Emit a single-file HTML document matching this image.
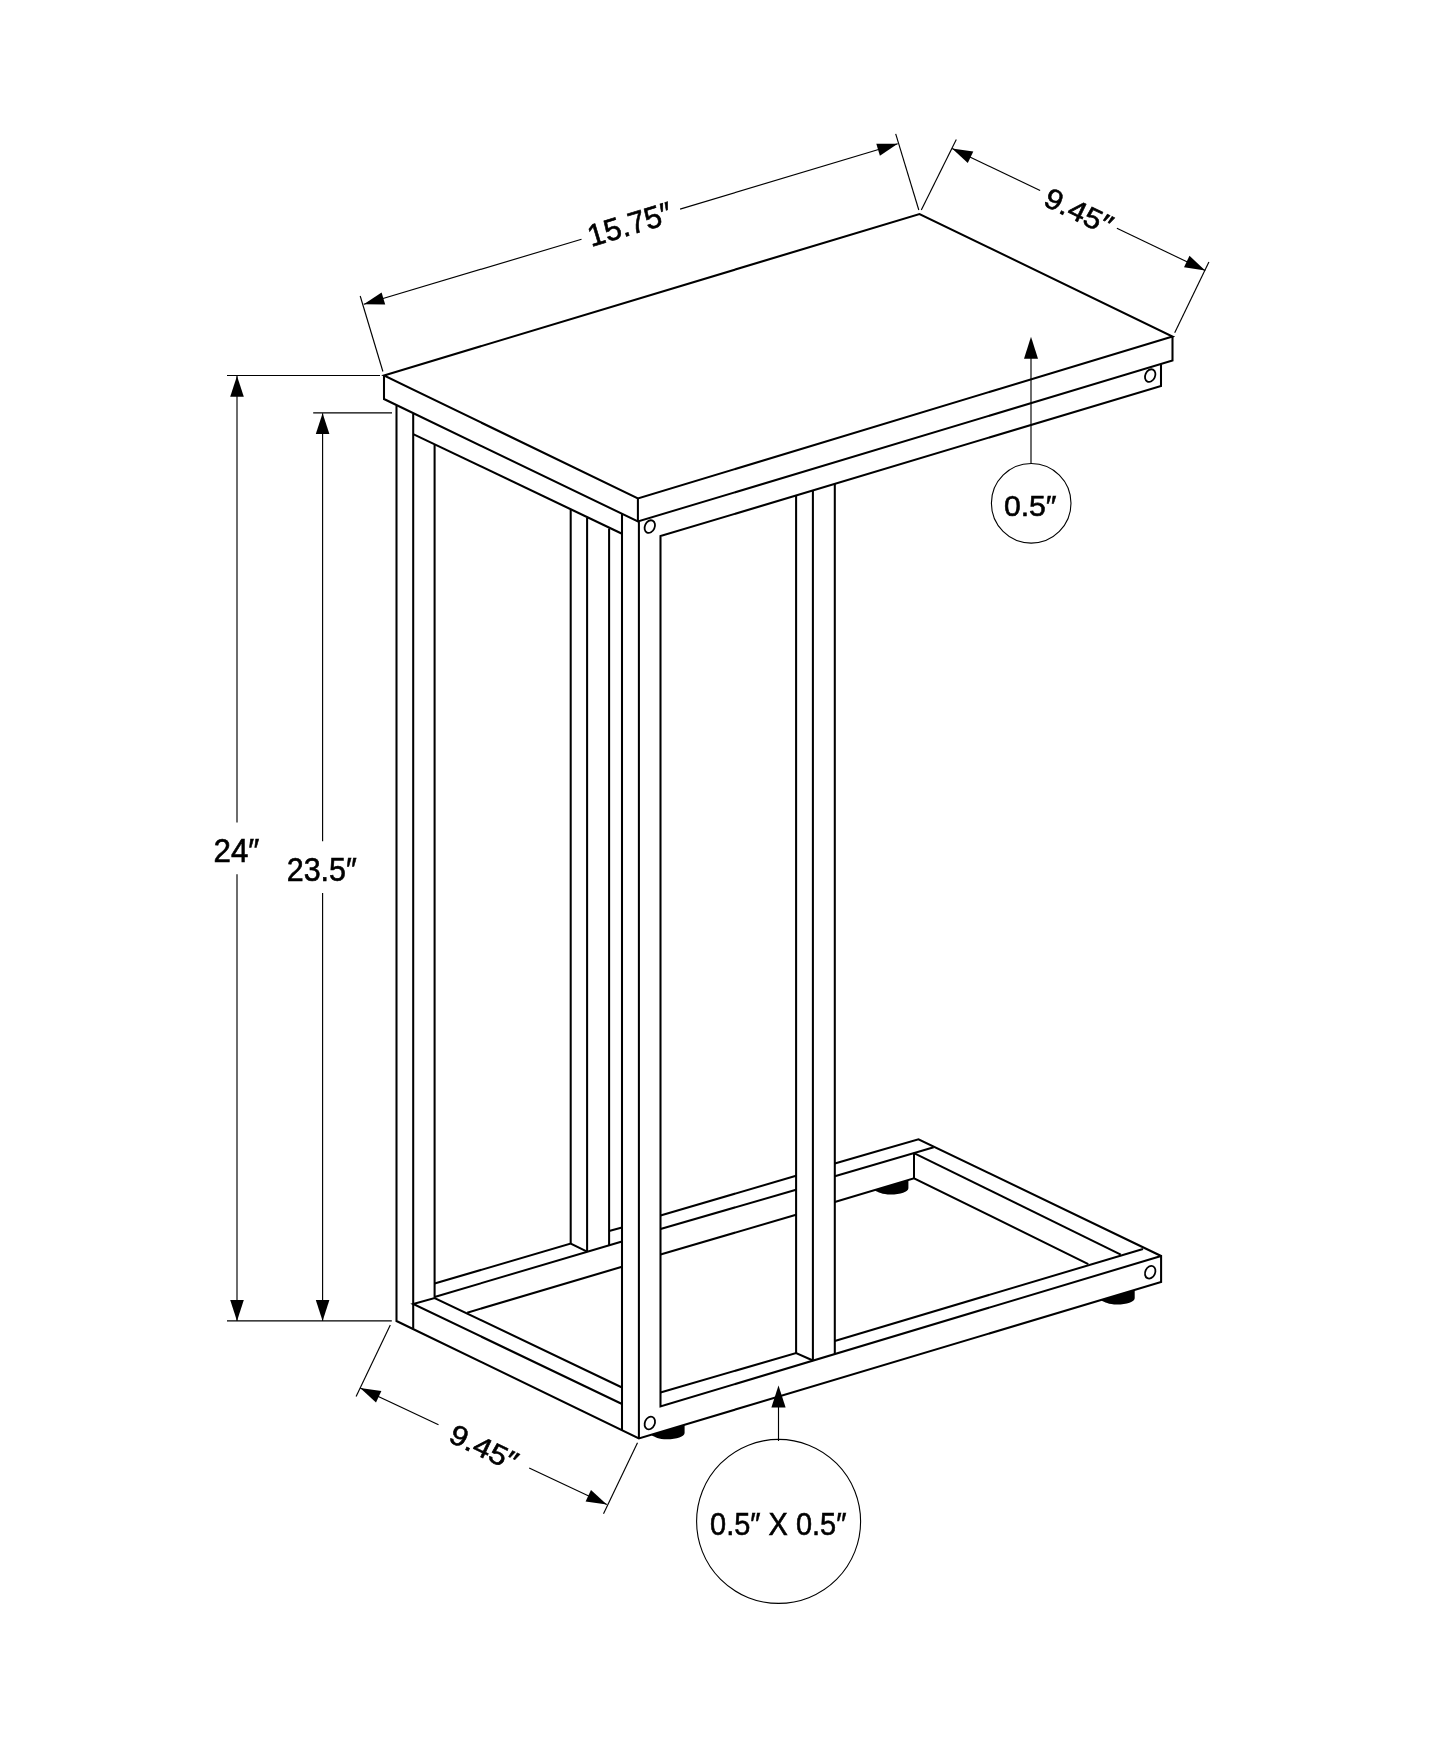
<!DOCTYPE html>
<html><head><meta charset="utf-8"><style>
html,body{margin:0;padding:0;background:#fff;overflow:hidden;width:1445px;height:1754px;}
svg{display:block;}
</style></head><body>
<svg width="1445" height="1754" viewBox="0 0 1445 1754">
<rect width="1445" height="1754" fill="#fff"/>
<g stroke="#000" stroke-linecap="butt" stroke-linejoin="miter" fill="none" style="will-change:transform">
<polygon points="384.0,375.5 919.5,214.0 1172.5,336.5 637.9,498.5" fill="none" stroke-width="2.05"/>
<polyline points="384.0,375.5 384.0,399.0 637.9,521.5 1172.5,360.5 1172.5,336.5" fill="none" stroke-width="2.05"/>
<line x1="637.9" y1="498.5" x2="637.9" y2="521.5" stroke-width="2.05"/>
<line x1="638.9" y1="521.5" x2="638.9" y2="1438.4" stroke-width="2.05"/>
<polyline points="396.5,405.5 396.5,1321.0 638.9,1438.4 1161.1,1282.0 1161.1,1256.0 918.5,1139.3 834.8,1163.4" fill="none" stroke-width="2.05"/>
<line x1="413.2" y1="434.1" x2="622.0" y2="533.7" stroke-width="2.05"/>
<polyline points="1161.0,364.2 1161.0,386.0 660.5,536.1 660.5,1406.4 1161.1,1256.0" fill="none" stroke-width="2.05"/>
<ellipse cx="649.8" cy="526.6" rx="4.9" ry="6.6" transform="rotate(25 649.8 526.6)" fill="none" stroke-width="1.8"/>
<ellipse cx="1150.2" cy="375.6" rx="4.9" ry="6.6" transform="rotate(25 1150.2 375.6)" fill="none" stroke-width="1.8"/>
<line x1="413.2" y1="414.0" x2="413.2" y2="1328.5" stroke-width="2.05"/>
<line x1="434.6" y1="444.4" x2="434.6" y2="1297.5" stroke-width="2.05"/>
<line x1="570.7" y1="510.0" x2="570.7" y2="1243.5" stroke-width="2.05"/>
<line x1="587.1" y1="518.0" x2="587.1" y2="1251.7" stroke-width="2.05"/>
<line x1="609.1" y1="528.5" x2="609.1" y2="1245.0" stroke-width="2.05"/>
<line x1="622.0" y1="514.0" x2="622.0" y2="1430.0" stroke-width="2.05"/>
<line x1="796.1" y1="495.6" x2="796.1" y2="1353.0" stroke-width="2.05"/>
<line x1="812.9" y1="490.6" x2="812.9" y2="1360.5" stroke-width="2.05"/>
<line x1="834.8" y1="484.1" x2="834.8" y2="1354.0" stroke-width="2.05"/>
<polyline points="622.0,1404.0 413.2,1304.0 434.6,1298.0 622.0,1387.5" fill="none" stroke-width="2.05"/>
<polyline points="434.6,1283.6 570.7,1243.5 587.1,1251.7" fill="none" stroke-width="2.05"/>
<line x1="434.6" y1="1297.0" x2="622.0" y2="1241.5" stroke-width="2.05"/>
<line x1="467.2" y1="1312.7" x2="622.0" y2="1266.7" stroke-width="2.05"/>
<line x1="609.1" y1="1230.9" x2="622.0" y2="1227.5" stroke-width="2.05"/>
<line x1="660.5" y1="1215.5" x2="796.1" y2="1175.8" stroke-width="2.05"/>
<line x1="660.5" y1="1229.0" x2="796.1" y2="1189.7" stroke-width="2.05"/>
<line x1="660.5" y1="1254.6" x2="796.1" y2="1214.8" stroke-width="2.05"/>
<polyline points="660.5,1392.6 796.1,1353.0 812.9,1360.5" fill="none" stroke-width="2.05"/>
<line x1="834.8" y1="1341.0" x2="1143.0" y2="1248.9" stroke-width="2.05"/>
<line x1="834.8" y1="1176.3" x2="933.7" y2="1147.3" stroke-width="2.05"/>
<line x1="914.0" y1="1152.8" x2="914.0" y2="1178.3" stroke-width="2.05"/>
<line x1="914.5" y1="1153.3" x2="1120.8" y2="1254.6" stroke-width="2.05"/>
<polyline points="834.8,1202.0 914.0,1178.3 1088.3,1264.1" fill="none" stroke-width="2.05"/>
<ellipse cx="649.8" cy="1423" rx="4.9" ry="6.6" transform="rotate(25 649.8 1423)" fill="none" stroke-width="1.8"/>
<ellipse cx="1150.2" cy="1272.2" rx="4.9" ry="6.6" transform="rotate(25 1150.2 1272.2)" fill="none" stroke-width="1.8"/>
<path d="M651.6,1434.6 L684.6,1424.7 L684.6,1433.0 C684.6,1436.7 676.6,1439.3 667.1,1439.3 C658.6,1439.3 654.6,1436.8 651.6,1435.2 Z" fill="#000" stroke="none"/>
<path d="M875.0,1190.0 L908.4,1180.0 L908.4,1188.3 C908.4,1192.0 900.4,1194.6 890.7,1194.6 C882.0,1194.6 878.0,1192.2 875.0,1190.6 Z" fill="#000" stroke="none"/>
<path d="M1101.5,1299.9 L1134.7,1289.9 L1134.7,1298.2 C1134.7,1301.9 1126.7,1304.5 1117.1,1304.5 C1108.5,1304.5 1104.5,1302.1 1101.5,1300.5 Z" fill="#000" stroke="none"/>
<line x1="360.2" y1="296.0" x2="382.9" y2="371.5" stroke-width="1.15"/>
<line x1="895.7" y1="133.8" x2="918.8" y2="210.0" stroke-width="1.15"/>
<line x1="363.8" y1="304.3" x2="581.5" y2="239.2" stroke-width="1.15"/>
<line x1="680.1" y1="209.1" x2="897.7" y2="143.8" stroke-width="1.15"/>
<polygon points="363.8,304.3 381.6,292.4 385.2,304.4" fill="#000" stroke="none"/>
<polygon points="897.7,143.8 879.9,155.7 876.3,143.7" fill="#000" stroke="none"/>
<line x1="921.3" y1="210.0" x2="956.3" y2="139.4" stroke-width="1.15"/>
<line x1="1174.7" y1="332.7" x2="1208.9" y2="262.1" stroke-width="1.15"/>
<line x1="952.1" y1="148.4" x2="1040.1" y2="190.6" stroke-width="1.15"/>
<line x1="1116.9" y1="228.2" x2="1205.2" y2="270.4" stroke-width="1.15"/>
<polygon points="952.1,148.4 973.3,151.6 967.8,163.0" fill="#000" stroke="none"/>
<polygon points="1205.2,270.4 1184.0,267.2 1189.5,255.8" fill="#000" stroke="none"/>
<line x1="227.0" y1="375.5" x2="380.0" y2="375.5" stroke-width="1.15"/>
<line x1="227.0" y1="1320.9" x2="391.8" y2="1320.9" stroke-width="1.15"/>
<line x1="237.0" y1="375.9" x2="237.0" y2="822.5" stroke-width="1.15"/>
<line x1="237.0" y1="874.2" x2="237.0" y2="1320.9" stroke-width="1.15"/>
<polygon points="237.0,375.9 243.8,396.7 230.2,396.7" fill="#000" stroke="none"/>
<polygon points="237.0,1320.9 230.2,1300.1 243.8,1300.1" fill="#000" stroke="none"/>
<line x1="313.2" y1="412.9" x2="392.0" y2="412.9" stroke-width="1.15"/>
<line x1="322.6" y1="413.3" x2="322.6" y2="841.2" stroke-width="1.15"/>
<line x1="322.6" y1="892.9" x2="322.6" y2="1320.9" stroke-width="1.15"/>
<polygon points="322.6,413.3 329.4,434.1 315.8,434.1" fill="#000" stroke="none"/>
<polygon points="322.6,1320.9 315.8,1300.1 329.4,1300.1" fill="#000" stroke="none"/>
<line x1="390.3" y1="1325.0" x2="356.1" y2="1396.6" stroke-width="1.15"/>
<line x1="637.5" y1="1442.8" x2="603.5" y2="1513.7" stroke-width="1.15"/>
<line x1="360.2" y1="1387.9" x2="438.5" y2="1424.8" stroke-width="1.15"/>
<line x1="529.2" y1="1468.0" x2="606.8" y2="1504.6" stroke-width="1.15"/>
<polygon points="360.2,1387.9 381.4,1391.0 376.0,1402.4" fill="#000" stroke="none"/>
<polygon points="606.8,1504.6 585.6,1501.5 591.0,1490.1" fill="#000" stroke="none"/>
<line x1="1031.0" y1="355.0" x2="1031.0" y2="463.0" stroke-width="1.15"/>
<polygon points="1031.0,336.8 1038.0,358.8 1024.0,358.8" fill="#000" stroke="none"/>
<circle cx="1031.2" cy="503.3" r="39.8" fill="none" stroke-width="1.1"/>
<line x1="778.5" y1="1400.0" x2="778.5" y2="1441.0" stroke-width="1.15"/>
<polygon points="778.5,1385.6 785.6,1407.4 771.4,1407.4" fill="#000" stroke="none"/>
<circle cx="778.6" cy="1521.4" r="82" fill="none" stroke-width="1.1"/>
<text fill="#000" stroke="#000" stroke-width="0.6" font-family="&quot;Liberation Sans&quot;, sans-serif" x="0" y="0" font-size="32.76" textLength="45.86" lengthAdjust="spacingAndGlyphs" text-anchor="middle" transform="translate(236.50 850.10) rotate(0) translate(0 11.79)">24″</text>
<text fill="#000" stroke="#000" stroke-width="0.6" font-family="&quot;Liberation Sans&quot;, sans-serif" x="0" y="0" font-size="32.76" textLength="70.14" lengthAdjust="spacingAndGlyphs" text-anchor="middle" transform="translate(321.75 868.80) rotate(0) translate(0 11.79)">23.5″</text>
<text fill="#000" stroke="#000" stroke-width="0.6" font-family="&quot;Liberation Sans&quot;, sans-serif" x="0" y="0" font-size="30.32" textLength="52.65" lengthAdjust="spacingAndGlyphs" text-anchor="middle" transform="translate(1030.20 505.30) rotate(0) translate(0 10.92)">0.5″</text>
<text fill="#000" stroke="#000" stroke-width="0.6" font-family="&quot;Liberation Sans&quot;, sans-serif" x="0" y="0" font-size="32.15" textLength="136.32" lengthAdjust="spacingAndGlyphs" text-anchor="middle" transform="translate(778.25 1522.95) rotate(0) translate(0 11.57)">0.5″ X 0.5″</text>
<text fill="#000" stroke="#000" stroke-width="0.6" font-family="&quot;Liberation Sans&quot;, sans-serif" x="0" y="0" font-size="30.97" textLength="86.70" lengthAdjust="spacingAndGlyphs" text-anchor="middle" transform="translate(629.60 223.80) rotate(-16.73) translate(0 11.15)">15.75″</text>
<text fill="#000" stroke="#000" stroke-width="0.6" font-family="&quot;Liberation Sans&quot;, sans-serif" x="0" y="0" font-size="28.70" textLength="71.92" lengthAdjust="spacingAndGlyphs" text-anchor="middle" transform="translate(1078.80 211.00) rotate(25.74) translate(0 10.33)">9.45″</text>
<text fill="#000" stroke="#000" stroke-width="0.6" font-family="&quot;Liberation Sans&quot;, sans-serif" x="0" y="0" font-size="28.11" textLength="71.92" lengthAdjust="spacingAndGlyphs" text-anchor="middle" transform="translate(484.10 1447.35) rotate(25.33) translate(0 10.12)">9.45″</text>
</g>
</svg>
</body></html>
